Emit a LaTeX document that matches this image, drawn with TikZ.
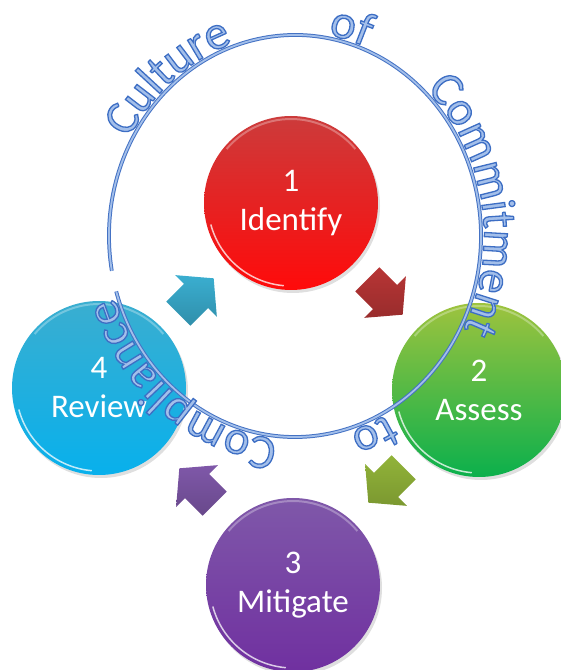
\documentclass[tikz,border=0pt]{standalone}
\usepackage{fontspec}
\setmainfont{Carlito}
\usepackage{tikz}
\usetikzlibrary{shadows,decorations.text}

\definecolor{redtop}{HTML}{CC3B3B}
\definecolor{redbot}{HTML}{FF0A0A}
\definecolor{greentop}{HTML}{9EC33E}
\definecolor{greenbot}{HTML}{0BB04C}
\definecolor{purpletop}{HTML}{7F58A9}
\definecolor{purplebot}{HTML}{7030A0}
\definecolor{bluetop}{HTML}{3AAED0}
\definecolor{bluebot}{HTML}{08B0EC}
\definecolor{ringline}{HTML}{4472C4}
\definecolor{ringfill}{HTML}{A3BFEA}

% outlined letters for the words on the ring
\newcommand{\ringfont}{\fontsize{48}{50}\selectfont\color{ringfill}%
  \special{pdf:literal direct 2 Tr 1.3 w 0.24 0.43 0.77 RG}}

\begin{document}
\begin{tikzpicture}[x=1pt,y=1pt]
\tikzset{
  stage/.style={circle, minimum size=174pt, inner sep=0pt, text=white,
    align=center, font=\fontsize{33}{39}\selectfont,
    drop shadow={opacity=0.25, shadow xshift=2pt, shadow yshift=-3pt},
    path picture={
      \draw[white, opacity=0.75, line width=1.5pt]
        ([shift={(195:83)}]path picture bounding box.center)
        arc[start angle=195, end angle=265, radius=83];
      \draw[white, opacity=0.3, line width=2pt]
        ([shift={(40:84)}]path picture bounding box.center)
        arc[start angle=40, end angle=140, radius=84];
    }},
  blockarrow/.pic={
    \path[pic actions] (-25,-17) -- (0,-17) -- (0,-29.5) -- (25,0)
      -- (0,29.5) -- (0,17) -- (-25,17) -- cycle;
  },
  ring/.style={draw=ringline, double=ringfill, line width=1pt,
    double distance=1.8pt},
  ringtext/.style={decorate, decoration={text along path,
    text align=center, text={#1}}}
}
\useasboundingbox (0,0) rectangle (561,670);

% the four steps
\node[stage, top color=redtop, bottom color=redbot] (identify) at (291,467) {1\\Identify};
\node[stage, top color=greentop, bottom color=greenbot] (assess) at (479,280) {2\\Assess};
\node[stage, top color=purpletop, bottom color=purplebot] (mitigate) at (293,85) {3\\Mitigate};
\node[stage, top color=bluetop, bottom color=bluebot] (review) at (99,282) {4\\Review};

% arrows between the steps
\pic[rotate=-45, top color=redtop!90!black, bottom color=redtop!75!black] at (385,373) {blockarrow};
\pic[rotate=-135, top color=greentop!92!black, bottom color=greentop!78!black] at (386,185) {blockarrow};
\pic[rotate=135, top color=purpletop, bottom color=purpletop!82!black] at (197,184) {blockarrow};
\pic[rotate=45, top color=bluetop, bottom color=bluetop!82!black] at (196,374) {blockarrow};

% the ring and its words
\draw[ring] (295,434) ++(190:186 and 201)
  arc[start angle=190, end angle=-164, x radius=186, y radius=201];
\path[ringtext={|\ringfont|Culture}] (295,434) ++(160:189 and 204)
  arc[start angle=160, end angle=100, x radius=189, y radius=204];
\path[ringtext={|\ringfont|of}] (295,434) ++(84:189 and 204)
  arc[start angle=84, end angle=64, x radius=189, y radius=204];
\path[ringtext={|\ringfont|Commitment}] (295,434) ++(55:189 and 204)
  arc[start angle=55, end angle=-36, x radius=189, y radius=204];
\path[ringtext={|\ringfont|to}] (295,434) ++(-57:189 and 204)
  arc[start angle=-57, end angle=-77, x radius=189, y radius=204];
\path[ringtext={|\ringfont|Compliance}] (295,434) ++(-85:189 and 204)
  arc[start angle=-85, end angle=-172, x radius=189, y radius=204];
\end{tikzpicture}
\end{document}
